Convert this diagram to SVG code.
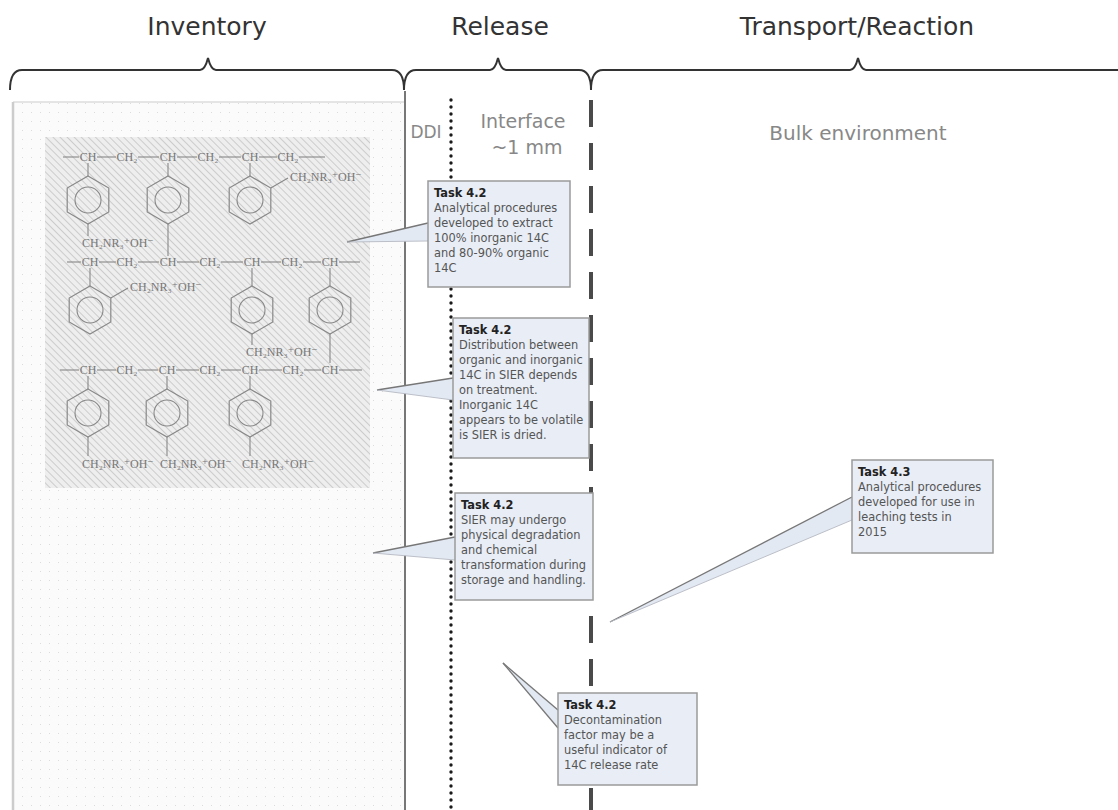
<svg xmlns="http://www.w3.org/2000/svg" xmlns:xlink="http://www.w3.org/1999/xlink" width="1118" height="810" viewBox="0 0 1118 810">
<style>
.title{font-family:"DejaVu Sans","Liberation Sans",sans-serif;font-size:25px;fill:#333;text-anchor:middle}
.lbl{font-family:"DejaVu Sans","Liberation Sans",sans-serif;fill:#888;text-anchor:middle}
.brace{fill:none;stroke:#333;stroke-width:2}
.box{fill:#e8edf6;stroke:#9a9a9a;stroke-width:1.5}
.bt{font-family:"DejaVu Sans","Liberation Sans",sans-serif;font-size:11.4px;fill:#555}
.h{font-weight:bold;fill:#222}
.wedge{fill:#e3e9f3;stroke:none}
.wedge-top{stroke:#777;stroke-width:1.3;fill:none}
.wedge-bot{stroke:#b5b9c2;stroke-width:0.9;fill:none}
.chem{font-family:"Liberation Serif","DejaVu Serif",serif;font-size:12px;fill:#777;text-anchor:middle}
.chemL{font-family:"Liberation Serif","DejaVu Serif",serif;font-size:12px;fill:#777}
.bond{stroke:#888;stroke-width:1.1;fill:none}
</style>
<defs>
<pattern id="hatch" width="5" height="5" patternUnits="userSpaceOnUse" patternTransform="rotate(-45)">
<rect width="5" height="5" fill="#eeeeee"/>
<line x1="0" y1="0" x2="0" y2="5" stroke="#c6c6c6" stroke-width="1.7"/>
</pattern>
<pattern id="dots" width="9" height="9" patternUnits="userSpaceOnUse">
<rect width="9" height="9" fill="#fbfbfb"/>
<rect x="4" y="4" width="1" height="1" fill="#dcdcdc"/>
</pattern>
<g id="ring">
<polygon points="0,-24 20.8,-12 20.8,12 0,24 -20.8,12 -20.8,-12" fill="none" stroke="#888" stroke-width="1.2"/>
<circle r="13" fill="none" stroke="#888" stroke-width="1.1"/>
</g>
</defs>

<rect width="1118" height="810" fill="#ffffff"/>

<g id="headers">
<path class="brace" d="M10,90 Q10,70 22,70 L200,70 Q205,70 208,58 Q211,70 216,70 L392,70 Q404,70 404,90"/>
<path class="brace" d="M404,90 Q404,70 416,70 L490,70 Q495,70 498,58 Q501,70 506,70 L579,70 Q591,70 591,90"/>
<path class="brace" d="M591,90 Q591,70 603,70 L850,70 Q855,70 858,58 Q861,70 866,70 L1125,70"/>
<text class="title" x="207" y="35">Inventory</text>
<text class="title" x="500" y="35">Release</text>
<text class="title" x="857" y="35">Transport/Reaction</text>
</g>

<g id="inventory">
<rect x="13" y="102" width="392" height="710" fill="url(#dots)" stroke="none"/>
<line x1="13" y1="102" x2="405" y2="102" stroke="#dcdcdc" stroke-width="1.5"/>
<line x1="13" y1="102" x2="13" y2="810" stroke="#cccccc" stroke-width="2.5"/>
<rect x="45" y="137" width="325" height="351" fill="url(#hatch)"/>
</g>

<g id="resin-structure">
<!-- row 1 -->
<g class="bond">
<line x1="63" y1="157" x2="79" y2="157"/><line x1="97" y1="157" x2="116" y2="157"/>
<line x1="138" y1="157" x2="159" y2="157"/><line x1="177" y1="157" x2="197" y2="157"/>
<line x1="219" y1="157" x2="241" y2="157"/><line x1="259" y1="157" x2="277" y2="157"/>
<line x1="299" y1="157" x2="325" y2="157"/>
<line x1="88" y1="163" x2="88" y2="176"/><line x1="168" y1="163" x2="168" y2="176"/><line x1="250" y1="163" x2="250" y2="176"/>
<line x1="88" y1="224" x2="88" y2="236"/>
<line x1="168" y1="224" x2="168" y2="256"/>
<line x1="270.8" y1="188" x2="288" y2="178"/>
</g>
<text class="chem" x="88" y="161">CH</text><text class="chem" x="127" y="161">CH₂</text>
<text class="chem" x="168" y="161">CH</text><text class="chem" x="208" y="161">CH₂</text>
<text class="chem" x="250" y="161">CH</text><text class="chem" x="288" y="161">CH₂</text>
<use xlink:href="#ring" x="88" y="200"/><use xlink:href="#ring" x="168" y="200"/><use xlink:href="#ring" x="250" y="200"/>
<text class="chemL" x="82" y="247">CH₂NR₃⁺OH⁻</text>
<text class="chemL" x="290" y="181">CH₂NR₃⁺OH⁻</text>
<!-- row 2 -->
<g class="bond">
<line x1="67" y1="262" x2="81" y2="262"/><line x1="99" y1="262" x2="116" y2="262"/>
<line x1="138" y1="262" x2="159" y2="262"/><line x1="177" y1="262" x2="199" y2="262"/>
<line x1="221" y1="262" x2="243" y2="262"/><line x1="261" y1="262" x2="281" y2="262"/>
<line x1="303" y1="262" x2="321" y2="262"/><line x1="339" y1="262" x2="360" y2="262"/>
<line x1="90" y1="268" x2="90" y2="286"/><line x1="252" y1="268" x2="252" y2="286"/><line x1="330" y1="268" x2="330" y2="286"/>
<line x1="110.8" y1="298" x2="128" y2="288"/>
<line x1="252" y1="334" x2="252" y2="345"/>
<line x1="330" y1="334" x2="330" y2="363"/>
</g>
<text class="chem" x="90" y="266">CH</text><text class="chem" x="127" y="266">CH₂</text>
<text class="chem" x="168" y="266">CH</text><text class="chem" x="210" y="266">CH₂</text>
<text class="chem" x="252" y="266">CH</text><text class="chem" x="292" y="266">CH₂</text>
<text class="chem" x="330" y="266">CH</text>
<use xlink:href="#ring" x="90" y="310"/><use xlink:href="#ring" x="252" y="310"/><use xlink:href="#ring" x="330" y="310"/>
<text class="chemL" x="130" y="291">CH₂NR₃⁺OH⁻</text>
<text class="chemL" x="246" y="356">CH₂NR₃⁺OH⁻</text>
<!-- row 3 -->
<g class="bond">
<line x1="60" y1="370" x2="79" y2="370"/><line x1="97" y1="370" x2="116" y2="370"/>
<line x1="138" y1="370" x2="158" y2="370"/><line x1="176" y1="370" x2="199" y2="370"/>
<line x1="221" y1="370" x2="241" y2="370"/><line x1="259" y1="370" x2="282" y2="370"/>
<line x1="304" y1="370" x2="321" y2="370"/><line x1="339" y1="370" x2="362" y2="370"/>
<line x1="88" y1="376" x2="88" y2="389"/><line x1="167" y1="376" x2="167" y2="389"/><line x1="250" y1="376" x2="250" y2="389"/>
<line x1="88" y1="437" x2="88" y2="456"/><line x1="167" y1="437" x2="167" y2="456"/><line x1="250" y1="437" x2="250" y2="456"/>
</g>
<text class="chem" x="88" y="374">CH</text><text class="chem" x="127" y="374">CH₂</text>
<text class="chem" x="167" y="374">CH</text><text class="chem" x="210" y="374">CH₂</text>
<text class="chem" x="250" y="374">CH</text><text class="chem" x="293" y="374">CH₂</text>
<text class="chem" x="330" y="374">CH</text>
<use xlink:href="#ring" x="88" y="413"/><use xlink:href="#ring" x="167" y="413"/><use xlink:href="#ring" x="250" y="413"/>
<text class="chemL" x="82" y="468">CH₂NR₃⁺OH⁻</text>
<text class="chemL" x="160" y="468">CH₂NR₃⁺OH⁻</text>
<text class="chemL" x="242" y="468">CH₂NR₃⁺OH⁻</text>
</g>

<g id="boundaries">
<line x1="405" y1="91" x2="405" y2="810" stroke="#777" stroke-width="2"/>
<line x1="451" y1="100" x2="451" y2="810" stroke="#1a1a1a" stroke-width="3.4" stroke-dasharray="0 7" stroke-linecap="round"/>
<line x1="591" y1="100" x2="591" y2="810" stroke="#4a4a4a" stroke-width="4" stroke-dasharray="27 16"/>
</g>

<g id="zone-labels">
<text class="lbl" x="426" y="138" font-size="17">DDI</text>
<text class="lbl" x="523" y="128" font-size="19">Interface</text>
<text class="lbl" x="527" y="154" font-size="19">~1 mm</text>
<text class="lbl" x="858" y="140" font-size="20">Bulk environment</text>
</g>

<g id="connectors">
<polygon class="wedge" points="347,242 428,223 428,241"/>
<line class="wedge-top" x1="347" y1="242" x2="428" y2="223"/>
<line class="wedge-bot" x1="347" y1="242" x2="428" y2="241"/>
<polygon class="wedge" points="377,390 453,378 453,400"/>
<line class="wedge-top" x1="377" y1="390" x2="453" y2="378"/>
<line class="wedge-bot" x1="377" y1="390" x2="453" y2="400"/>
<polygon class="wedge" points="373,553 455,537 455,560"/>
<line class="wedge-top" x1="373" y1="553" x2="455" y2="537"/>
<line class="wedge-bot" x1="373" y1="553" x2="455" y2="560"/>
<polygon class="wedge" points="610,622 852,497 852,520"/>
<line class="wedge-top" x1="610" y1="622" x2="852" y2="497"/>
<line class="wedge-bot" x1="610" y1="622" x2="852" y2="520"/>
<polygon class="wedge" points="503,663 558,710 558,728"/>
<line class="wedge-top" x1="503" y1="663" x2="558" y2="728"/>
<line class="wedge-top" x1="503" y1="663" x2="558" y2="710"/>
</g>

<g id="task-box-1">
<rect class="box" x="428" y="181" width="142" height="106"/>
<text class="bt" x="434" y="197"><tspan class="h" x="434">Task 4.2</tspan><tspan x="434" dy="15">Analytical procedures</tspan><tspan x="434" dy="15">developed to extract</tspan><tspan x="434" dy="15">100% inorganic 14C</tspan><tspan x="434" dy="15">and 80-90% organic</tspan><tspan x="434" dy="15">14C</tspan></text>
</g>

<g id="task-box-2">
<rect class="box" x="453" y="318" width="136" height="140"/>
<text class="bt" x="459" y="334"><tspan class="h" x="459">Task 4.2</tspan><tspan x="459" dy="15">Distribution between</tspan><tspan x="459" dy="15">organic and inorganic</tspan><tspan x="459" dy="15">14C in SIER depends</tspan><tspan x="459" dy="15">on treatment.</tspan><tspan x="459" dy="15">Inorganic 14C</tspan><tspan x="459" dy="15">appears to be volatile</tspan><tspan x="459" dy="15">is SIER is dried.</tspan></text>
</g>

<g id="task-box-3">
<rect class="box" x="455" y="493" width="138" height="107"/>
<text class="bt" x="461" y="509"><tspan class="h" x="461">Task 4.2</tspan><tspan x="461" dy="15">SIER may undergo</tspan><tspan x="461" dy="15">physical degradation</tspan><tspan x="461" dy="15">and chemical</tspan><tspan x="461" dy="15">transformation during</tspan><tspan x="461" dy="15">storage and handling.</tspan></text>
</g>

<g id="task-box-4">
<rect class="box" x="852" y="460" width="141" height="93"/>
<text class="bt" x="858" y="476"><tspan class="h" x="858">Task 4.3</tspan><tspan x="858" dy="15">Analytical procedures</tspan><tspan x="858" dy="15">developed for use in</tspan><tspan x="858" dy="15">leaching tests in</tspan><tspan x="858" dy="15">2015</tspan></text>
</g>

<g id="task-box-5">
<rect class="box" x="558" y="693" width="139" height="92"/>
<text class="bt" x="564" y="709"><tspan class="h" x="564">Task 4.2</tspan><tspan x="564" dy="15">Decontamination</tspan><tspan x="564" dy="15">factor may be a</tspan><tspan x="564" dy="15">useful indicator of</tspan><tspan x="564" dy="15">14C release rate</tspan></text>
</g>
</svg>
